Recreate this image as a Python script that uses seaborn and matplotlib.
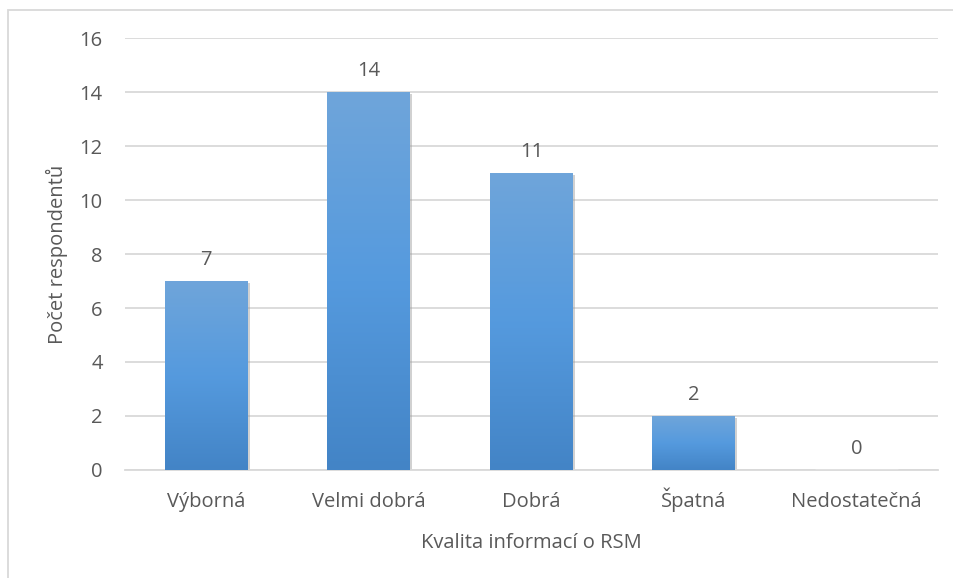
import numpy as np
import pandas as pd
import matplotlib
matplotlib.use("Agg")
import matplotlib.pyplot as plt
import matplotlib.patheffects as pe
from matplotlib.colors import LinearSegmentedColormap
from matplotlib.patches import Rectangle
import seaborn as sns

# Survey answers: quality of information about RSM
categories = ["Výborná", "Velmi dobrá", "Dobrá", "Špatná", "Nedostatečná"]
counts = [7, 14, 11, 2, 0]
y_ticks = [0, 2, 4, 6, 8, 10, 12, 14, 16]

x_title = "Kvalita informací o RSM"
y_title = "Počet respondentů"

sns.set_theme(style="white")
plt.rcParams["font.family"] = ["Open Sans", "DejaVu Sans"]

text_color = "#595959"
grid_color = "#d9d9d9"
fs = 14.5

df = pd.DataFrame({"kategorie": categories, "pocet": counts})

fig = plt.figure(figsize=(9.54, 5.78), dpi=100)
ax = fig.add_axes([0.131, 0.187, 0.852, 0.747])

sns.barplot(data=df, x="kategorie", y="pocet", color="#5b9bd5", width=0.51,
            ax=ax, zorder=3, saturation=1)

ax.set_ylim(0, 16)
ax.set_yticks(y_ticks)
ax.set_xlim(-0.5, len(categories) - 0.5)

# Horizontal gridlines in light grey behind the bars
ax.yaxis.grid(True, color=grid_color, linewidth=1.3, zorder=0)
ax.xaxis.grid(False)
for side in ["top", "right", "left"]:
    ax.spines[side].set_visible(False)
ax.spines["bottom"].set_color(grid_color)
ax.spines["bottom"].set_linewidth(1.3)

ax.tick_params(axis="both", length=0, colors=text_color, labelsize=fs)
ax.tick_params(axis="x", pad=27)
ax.tick_params(axis="y", pad=16)
for lab in ax.get_xticklabels():
    lab.set_verticalalignment("baseline")

ax.set_xlabel(x_title, fontsize=fs, color=text_color, va="baseline")
ax.set_ylabel(y_title, fontsize=fs, color=text_color, va="center")
ax.xaxis.set_label_coords(0.5, -0.1806)
ax.yaxis.set_label_coords(-0.084, 0.5)

# Vertical gradient fill for each bar, lighter at the top
grad_cmap = LinearSegmentedColormap.from_list(
    "bar_grad", ["#4384c6", "#559ade", "#6fa5da"])
grad = np.linspace(0, 1, 256).reshape(-1, 1)
for patch in ax.patches:
    h = patch.get_height()
    if h <= 0:
        continue
    x0 = patch.get_x()
    w = patch.get_width()
    patch.set_facecolor("none")
    patch.set_edgecolor("none")
    shadow = Rectangle((x0, 0), w, h, facecolor="#5b9bd5", edgecolor="none",
                       zorder=2.5)
    shadow.set_path_effects([pe.SimplePatchShadow(offset=(1.5, -1.5),
                                                  shadow_rgbFace="#9a9a9a",
                                                  alpha=0.45)])
    ax.add_patch(shadow)
    im = ax.imshow(grad, cmap=grad_cmap, origin="lower", aspect="auto",
                   extent=[x0, x0 + w, 0, h], zorder=3)
    im.set_clip_path(patch)

ax.set_xlim(-0.5, len(categories) - 0.5)
ax.set_ylim(0, 16)

# Value labels above the bars
for i, v in enumerate(counts):
    ax.annotate(str(v), (i, v), xytext=(0, 11.5), textcoords="offset points",
                ha="center", va="baseline", fontsize=fs, color=text_color)

# Thin chart frame around the whole figure area
fig.patches.append(Rectangle((8 / 954, -0.1), 1.2, 1 - 10 / 578 + 0.1,
                             transform=fig.transFigure, fill=False,
                             edgecolor="#d9d9d9", linewidth=1.3))

fig.savefig("out.png", dpi=100)
